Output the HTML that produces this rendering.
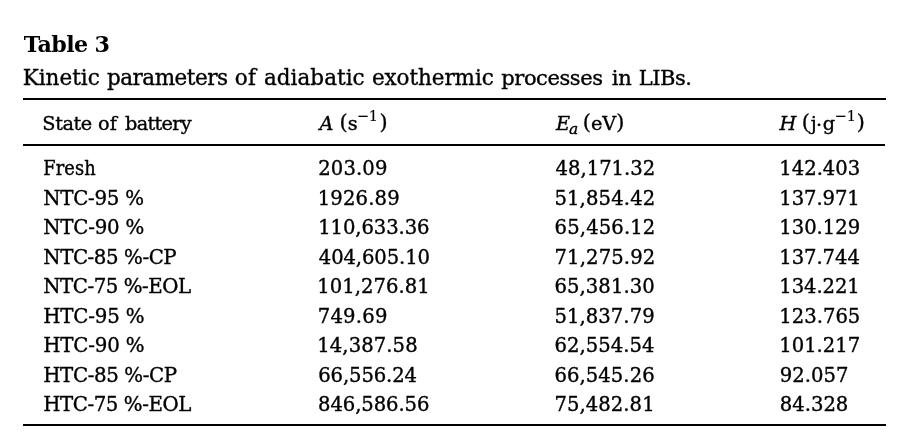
<!DOCTYPE html>
<html lang="en"><head><meta charset="utf-8"><title>Table 3</title>
<style>
html,body{margin:0;padding:0;background:#fff;}
body{width:909px;height:447px;position:relative;overflow:hidden;font-family:"DejaVu Serif", "Liberation Serif", serif;color:#000;}
table,caption,thead,tbody,tr,th,td,strong{display:block;margin:0;padding:0;border:0;font-weight:normal;font-size:inherit;text-align:left;}
.t{-webkit-text-stroke:0.36px #000;position:absolute;white-space:nowrap;line-height:40px;height:40px;}
.b{font-weight:bold;-webkit-text-stroke:0;}
.r{position:absolute;left:23px;width:863px;height:2px;background:#000;}
sup,sub{line-height:0;position:relative;vertical-align:baseline;}
sup{font-size:75%;top:-9px;-webkit-text-stroke:0.15px #000;}
sub{font-size:80%;top:3.8px;}
.a2{margin-left:-0.9px;}.a3{margin-left:1.4px;}
.e1{margin-left:-1px;}.e2{margin-left:-1.5px;}
.h1{margin-left:-1.7px;letter-spacing:0.9px;}.h2{margin-left:-1.5px;position:relative;top:1.5px;}.h3{margin-left:0.6px;}.h4{margin-left:-0.6px;}.h5{margin-left:0.8px;}
i{font-style:italic;}
.d{font-size:19.6px;line-height:0;}
.c{font-size:19.8px;line-height:0;}
.cs{font-size:21px;line-height:0;}
.cn{font-family:"DejaVu Serif Condensed","DejaVu Serif",serif;font-stretch:condensed;}
.p{font-size:108%;line-height:0;position:relative;top:-1px;}
</style></head><body>
<div class="r" style="top:98px"></div>
<div class="r" style="top:144px;width:862px"></div>
<div class="r" style="top:424px"></div>
<table>
<caption><strong><span id="tt" class="t b" style="left:23.73px;top:24.25px;font-size:22.2px;letter-spacing:-0.611px;">Table 3</span></strong> <span class="cap"><span id="cap0" class="t" style="left:22.70px;top:57.75px;font-size:21.5px;letter-spacing:-0.003px;">Kinetic</span> <span id="cap1" class="t" style="left:106.99px;top:57.75px;font-size:21.5px;letter-spacing:-0.494px;">parameters</span> <span id="cap2" class="t" style="left:234.78px;top:57.75px;font-size:21.5px;letter-spacing:0.388px;">of</span> <span id="cap3" class="t" style="left:263.89px;top:57.75px;font-size:21.5px;letter-spacing:0.047px;">adiabatic</span> <span id="cap4" class="t" style="left:371.94px;top:57.75px;font-size:21.5px;letter-spacing:-0.086px;">exothermic</span> <span id="cap5" class="t" style="left:501.27px;top:57.75px;font-size:21.5px;letter-spacing:-0.429px;"><span class="cs">processes</span></span> <span id="cap6" class="t" style="left:611.72px;top:57.75px;font-size:21.5px;letter-spacing:-0.145px;"><span class="cs">in</span></span> <span id="cap7" class="t" style="left:638.71px;top:57.75px;font-size:21.5px;letter-spacing:-0.471px;"><span class="cs">LIBs.</span></span></span></caption>
<thead><tr>
<th><span id="h1w0" class="t" style="left:42.35px;top:103.75px;font-size:19.3px;letter-spacing:-0.420px;">State</span> <span id="h1w1" class="t" style="left:97.95px;top:103.75px;font-size:19.3px;letter-spacing:0.088px;">of</span> <span id="h1w2" class="t" style="left:125.08px;top:103.75px;font-size:19.3px;letter-spacing:-0.703px;">battery</span></th>
<th><span id="h2" class="t" style="left:319.45px;top:103.75px;font-size:19.3px;"><i>A</i><span class="a1"> <span class="p">(</span>s</span><sup class="a2">−1</sup><span class="a3 p">)</span></span></th>
<th><span id="h3" class="t" style="left:555.88px;top:103.75px;font-size:19.3px;"><i>E<sub class="e1">a</sub></i><span class="e2"> <span class="p">(</span>eV<span class="p">)</span></span></span></th>
<th><span id="h4" class="t" style="left:779.51px;top:103.75px;font-size:19.3px;"><i>H</i><span class="h1"> <span class="p">(</span>j</span><span class="h2">·</span><span class="h3">g</span><sup class="h4">−1</sup><span class="h5 p">)</span></span></th>
</tr></thead>
<tbody>
<tr><td><span id="r0c0" class="t" style="left:43.27px;top:148.75px;font-size:19.3px;letter-spacing:0.121px;"><span class="c cn">Fresh</span></span></td><td><span id="r0c1" class="t" style="left:318.26px;top:148.75px;font-size:19.3px;letter-spacing:0.124px;"><span class="d">203.09</span></span></td><td><span id="r0c2" class="t" style="left:555.41px;top:148.75px;font-size:19.3px;letter-spacing:0.025px;"><span class="d">48,171.32</span></span></td><td><span id="r0c3" class="t" style="left:779.29px;top:148.75px;font-size:19.3px;letter-spacing:-0.013px;"><span class="d">142.403</span></span></td></tr>
<tr><td><span id="r1c0" class="t" style="left:43.28px;top:178.75px;font-size:19.3px;letter-spacing:-0.263px;"><span class="c">NTC-95 %</span></span></td><td><span id="r1c1" class="t" style="left:317.75px;top:178.75px;font-size:19.3px;letter-spacing:0.154px;"><span class="d">1926.89</span></span></td><td><span id="r1c2" class="t" style="left:554.39px;top:178.75px;font-size:19.3px;letter-spacing:0.153px;"><span class="d">51,854.42</span></span></td><td><span id="r1c3" class="t" style="left:779.29px;top:178.75px;font-size:19.3px;letter-spacing:-0.084px;"><span class="d">137.971</span></span></td></tr>
<tr><td><span id="r2c0" class="t" style="left:43.28px;top:207.75px;font-size:19.3px;letter-spacing:-0.220px;"><span class="c">NTC-90 %</span></span></td><td><span id="r2c1" class="t" style="left:318.17px;top:207.75px;font-size:19.3px;letter-spacing:-0.090px;"><span class="d">110,633.36</span></span></td><td><span id="r2c2" class="t" style="left:554.58px;top:207.75px;font-size:19.3px;letter-spacing:0.129px;"><span class="d">65,456.12</span></span></td><td><span id="r2c3" class="t" style="left:779.29px;top:207.75px;font-size:19.3px;letter-spacing:-0.026px;"><span class="d">130.129</span></span></td></tr>
<tr><td><span id="r3c0" class="t" style="left:43.28px;top:237.75px;font-size:19.3px;letter-spacing:-0.429px;"><span class="c">NTC-85 %-CP</span></span></td><td><span id="r3c1" class="t" style="left:318.81px;top:237.75px;font-size:19.3px;letter-spacing:-0.112px;"><span class="d">404,605.10</span></span></td><td><span id="r3c2" class="t" style="left:554.41px;top:237.75px;font-size:19.3px;letter-spacing:0.150px;"><span class="d">71,275.92</span></span></td><td><span id="r3c3" class="t" style="left:779.29px;top:237.75px;font-size:19.3px;letter-spacing:-0.074px;"><span class="d">137.744</span></span></td></tr>
<tr><td><span id="r4c0" class="t" style="left:43.28px;top:266.75px;font-size:19.3px;letter-spacing:-0.472px;"><span class="c">NTC-75 %-EOL</span></span></td><td><span id="r4c1" class="t" style="left:317.29px;top:266.75px;font-size:19.3px;letter-spacing:0.037px;"><span class="d">101,276.81</span></span></td><td><span id="r4c2" class="t" style="left:554.58px;top:266.75px;font-size:19.3px;letter-spacing:0.041px;"><span class="d">65,381.30</span></span></td><td><span id="r4c3" class="t" style="left:779.29px;top:266.75px;font-size:19.3px;letter-spacing:-0.084px;"><span class="d">134.221</span></span></td></tr>
<tr><td><span id="r5c0" class="t" style="left:43.21px;top:296.75px;font-size:19.3px;letter-spacing:-0.181px;"><span class="c">HTC-95 %</span></span></td><td><span id="r5c1" class="t" style="left:317.76px;top:296.75px;font-size:19.3px;letter-spacing:0.213px;"><span class="d">749.69</span></span></td><td><span id="r5c2" class="t" style="left:554.39px;top:296.75px;font-size:19.3px;letter-spacing:0.068px;"><span class="d">51,837.79</span></span></td><td><span id="r5c3" class="t" style="left:779.29px;top:296.75px;font-size:19.3px;letter-spacing:0.004px;"><span class="d">123.765</span></span></td></tr>
<tr><td><span id="r6c0" class="t" style="left:43.21px;top:325.75px;font-size:19.3px;letter-spacing:-0.181px;"><span class="c">HTC-90 %</span></span></td><td><span id="r6c1" class="t" style="left:317.29px;top:325.75px;font-size:19.3px;letter-spacing:0.074px;"><span class="d">14,387.58</span></span></td><td><span id="r6c2" class="t" style="left:554.58px;top:325.75px;font-size:19.3px;letter-spacing:0.009px;"><span class="d">62,554.54</span></span></td><td><span id="r6c3" class="t" style="left:779.29px;top:325.75px;font-size:19.3px;letter-spacing:-0.026px;"><span class="d">101.217</span></span></td></tr>
<tr><td><span id="r7c0" class="t" style="left:43.21px;top:355.75px;font-size:19.3px;letter-spacing:-0.372px;"><span class="c">HTC-85 %-CP</span></span></td><td><span id="r7c1" class="t" style="left:318.22px;top:355.75px;font-size:19.3px;letter-spacing:-0.111px;"><span class="d">66,556.24</span></span></td><td><span id="r7c2" class="t" style="left:554.58px;top:355.75px;font-size:19.3px;letter-spacing:0.038px;"><span class="d">66,545.26</span></span></td><td><span id="r7c3" class="t" style="left:779.81px;top:355.75px;font-size:19.3px;letter-spacing:0.006px;"><span class="d">92.057</span></span></td></tr>
<tr><td><span id="r8c0" class="t" style="left:43.21px;top:384.75px;font-size:19.3px;letter-spacing:-0.439px;"><span class="c">HTC-75 %-EOL</span></span></td><td><span id="r8c1" class="t" style="left:318.01px;top:384.75px;font-size:19.3px;letter-spacing:-0.083px;"><span class="d">846,586.56</span></span></td><td><span id="r8c2" class="t" style="left:554.41px;top:384.75px;font-size:19.3px;letter-spacing:0.059px;"><span class="d">75,482.81</span></span></td><td><span id="r8c3" class="t" style="left:779.76px;top:384.75px;font-size:19.3px;letter-spacing:0.004px;"><span class="d">84.328</span></span></td></tr>
</tbody>
</table>
</body></html>
